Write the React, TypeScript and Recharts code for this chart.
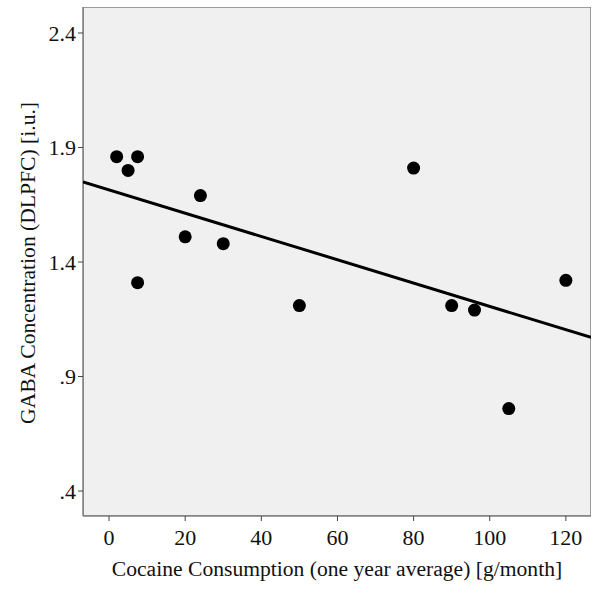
import React from "react";
import { ScatterChart, Scatter, XAxis, YAxis, ReferenceArea } from "recharts";

const consumption = [2, 5, 7.5, 7.5, 20, 24, 30, 50, 80, 90, 96, 105, 120];
const gaba = [1.86, 1.8, 1.86, 1.31, 1.51, 1.69, 1.48, 1.21, 1.81, 1.21, 1.19, 0.76, 1.32];

const fitX = [-6.84, 126.6];
const fitY = [1.75, 1.071];

const xTicks = [0, 20, 40, 60, 80, 100, 120];
const yTicks = [0.4, 0.9, 1.4, 1.9, 2.4];
const xDomain = [-6.84, 126.6];
const yDomain = [0.291, 2.5135];

const points = consumption.map((x, i) => ({ x, y: gaba[i] }));
const fitLine = fitX.map((x, i) => ({ x, y: fitY[i] }));

const FONT = "'Liberation Serif', 'Times New Roman', serif";

const fmtY = (v: number) => {
  const s = v.toFixed(1);
  return s.startsWith("0") ? s.slice(1) : s;
};

const Dot = (p: any) => <circle cx={p.cx} cy={p.cy} r={6.5} fill="#000" />;

const YTitle = (props: any) => {
  const vb = props.viewBox || { x: 0, y: 0, width: 0, height: 0 };
  const cx = vb.x + 28;
  const cy = vb.y + vb.height / 2 + 1.5;
  return (
    <text
      x={cx}
      y={cy}
      transform={`rotate(-90 ${cx} ${cy})`}
      textAnchor="middle"
      dominantBaseline="central"
      fontFamily={FONT}
      fontSize={21.6}
      fill="#111"
    >
      GABA Concentration (DLPFC) [i.u.]
    </text>
  );
};

export default function App() {
  return (
    <div style={{ position: "absolute", left: 0, top: 0, background: "#fff" }}>
      <ScatterChart
        width={600}
        height={597}
        margin={{ top: 7, right: 9, left: 0, bottom: 0 }}
      >
        <XAxis
          type="number"
          dataKey="x"
          domain={xDomain}
          ticks={xTicks}
          allowDataOverflow
          height={81}
          tickSize={5}
          tickMargin={8}
          axisLine={{ stroke: "#808080", strokeWidth: 1.5 }}
          tickLine={{ stroke: "#444" }}
          tick={{ fill: "#111", fontFamily: FONT, fontSize: 22 }}
          label={{
            value: "Cocaine Consumption (one year average) [g/month]",
            position: "insideBottom",
            offset: 21,
            fill: "#111",
            fontFamily: FONT,
            fontSize: 21.6,
          }}
        />
        <YAxis
          type="number"
          dataKey="y"
          domain={yDomain}
          ticks={yTicks}
          allowDataOverflow
          width={83}
          tickSize={5}
          tickMargin={2}
          tickFormatter={fmtY}
          axisLine={{ stroke: "#808080", strokeWidth: 1.5 }}
          tickLine={{ stroke: "#444" }}
          tick={{ fill: "#111", fontFamily: FONT, fontSize: 22 }}
          label={{ content: YTitle }}
        />
        <ReferenceArea
          x1={xDomain[0]}
          x2={xDomain[1]}
          y1={yDomain[0]}
          y2={yDomain[1]}
          fill="#f0f0f0"
          fillOpacity={1}
          stroke="#808080"
          strokeWidth={1.5}
          ifOverflow="hidden"
        />
        <Scatter
          data={fitLine}
          line={{ stroke: "#000", strokeWidth: 3 }}
          shape={() => null}
          isAnimationActive={false}
        />
        <Scatter data={points} shape={Dot} isAnimationActive={false} />
      </ScatterChart>
    </div>
  );
}
